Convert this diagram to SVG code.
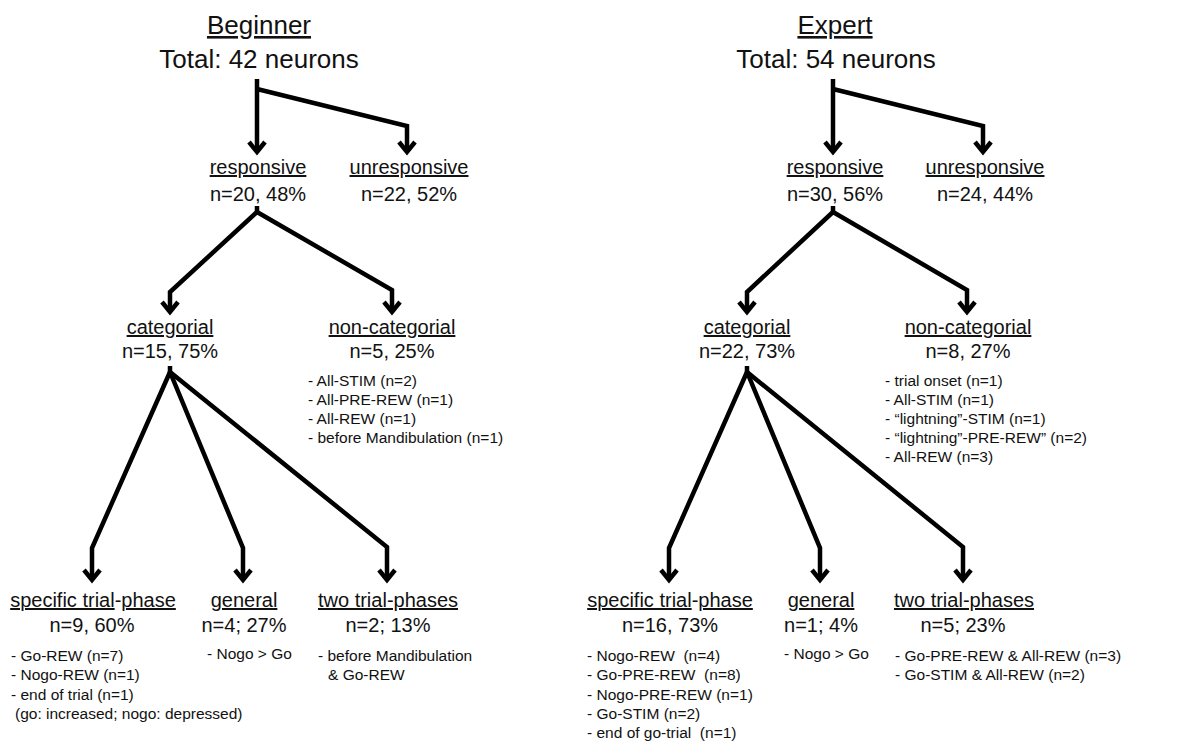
<svg xmlns="http://www.w3.org/2000/svg" width="1204" height="745" viewBox="0 0 1204 745">
<defs>
<style>
text{font-family:"Liberation Sans",Arial,Helvetica,sans-serif;fill:#111}
.t{font-size:26px;text-anchor:middle}
.h{font-size:20px;text-anchor:middle}
.l{font-size:15.5px;white-space:pre}
.u{text-decoration:underline}
.c{fill:none;stroke:#000;stroke-width:4.5;stroke-linejoin:miter;marker-end:url(#chev)}
.k{fill:none;stroke:#000;stroke-width:4.5}
</style>
<marker id="chev" viewBox="-14 -12 18 24" markerUnits="userSpaceOnUse" markerWidth="18" markerHeight="24" refX="0" refY="0" orient="auto" overflow="visible">
<path d="M-10,-8 L0,0 L-10,8" fill="none" stroke="#000" stroke-width="4.5"/>
</marker>
</defs>
<rect width="1204" height="745" fill="#fff"/>

<g id="connectors">
<!-- Beginner -->
<path class="c" d="M257,79 V152"/>
<path class="c" d="M257,89 L407,126 V152"/>
<path class="k" d="M257,206 V213"/>
<path class="c" d="M257,212 L170,292 V312"/>
<path class="c" d="M257,212 L392,290 V312"/>
<path class="k" d="M170,366 V373"/>
<path class="c" d="M170,372 L92,548 V580"/>
<path class="c" d="M170,372 L243,548 V580"/>
<path class="c" d="M170,372 L387,547 V580"/>
<!-- Expert -->
<path class="c" d="M833,79 V152"/>
<path class="c" d="M833,89 L983,126 V152"/>
<path class="k" d="M833,206 V213"/>
<path class="c" d="M833,212 L747,292 V312"/>
<path class="c" d="M833,212 L967,290 V312"/>
<path class="k" d="M747,366 V373"/>
<path class="c" d="M747,372 L669,548 V580"/>
<path class="c" d="M747,372 L820,548 V580"/>
<path class="c" d="M747,372 L963,547 V580"/>
</g>

<!-- Beginner tree -->
<g id="b-root">
<text class="t u" x="259" y="34">Beginner</text>
<text class="t" x="259" y="68">Total: 42 neurons</text>
</g>
<g id="b-responsive">
<text class="h u" x="258" y="174">responsive</text>
<text class="h" x="258" y="201">n=20, 48%</text>
</g>
<g id="b-unresponsive">
<text class="h u" x="409" y="174">unresponsive</text>
<text class="h" x="409" y="201">n=22, 52%</text>
</g>
<g id="b-categorial">
<text class="h u" x="170" y="334">categorial</text>
<text class="h" x="170" y="358">n=15, 75%</text>
</g>
<g id="b-noncategorial">
<text class="h u" x="392" y="334">non-categorial</text>
<text class="h" x="392" y="358">n=5, 25%</text>
<text class="l" x="308" y="386">- All-STIM (n=2)</text>
<text class="l" x="308" y="405">- All-PRE-REW (n=1)</text>
<text class="l" x="308" y="424">- All-REW (n=1)</text>
<text class="l" x="308" y="443">- before Mandibulation (n=1)</text>
</g>
<g id="b-specific">
<text class="h" x="93" y="607"><tspan class="u">specific trial</tspan>-<tspan class="u">phase</tspan></text>
<text class="h" x="92" y="632">n=9, 60%</text>
<text class="l" x="11" y="661">- Go-REW (n=7)</text>
<text class="l" x="11" y="680">- Nogo-REW (n=1)</text>
<text class="l" x="11" y="700">- end of trial (n=1)</text>
<text class="l" x="15" y="719">(go: increased; nogo: depressed)</text>
</g>
<g id="b-general">
<text class="h u" x="244" y="607">general</text>
<text class="h" x="244" y="632">n=4; 27%</text>
<text class="l" x="207" y="659">- Nogo &gt; Go</text>
</g>
<g id="b-two">
<text class="h u" x="388" y="607">two trial-phases</text>
<text class="h" x="388" y="632">n=2; 13%</text>
<text class="l" x="318" y="661">- before Mandibulation</text>
<text class="l" x="328" y="680">&amp; Go-REW</text>
</g>

<!-- Expert tree -->
<g id="e-root">
<text class="t u" x="835" y="34">Expert</text>
<text class="t" x="836" y="68">Total: 54 neurons</text>
</g>
<g id="e-responsive">
<text class="h u" x="835" y="174">responsive</text>
<text class="h" x="835" y="201">n=30, 56%</text>
</g>
<g id="e-unresponsive">
<text class="h u" x="985" y="174">unresponsive</text>
<text class="h" x="985" y="201">n=24, 44%</text>
</g>
<g id="e-categorial">
<text class="h u" x="747" y="334">categorial</text>
<text class="h" x="747" y="358">n=22, 73%</text>
</g>
<g id="e-noncategorial">
<text class="h u" x="968" y="334">non-categorial</text>
<text class="h" x="968" y="358">n=8, 27%</text>
<text class="l" x="885" y="386">- trial onset (n=1)</text>
<text class="l" x="885" y="405">- All-STIM (n=1)</text>
<text class="l" x="885" y="424">- “lightning”-STIM (n=1)</text>
<text class="l" x="885" y="443">- “lightning”-PRE-REW” (n=2)</text>
<text class="l" x="885" y="462">- All-REW (n=3)</text>
</g>
<g id="e-specific">
<text class="h" x="670" y="607"><tspan class="u">specific trial</tspan>-<tspan class="u">phase</tspan></text>
<text class="h" x="670" y="632">n=16, 73%</text>
<text class="l" x="587" y="661">- Nogo-REW  (n=4)</text>
<text class="l" x="587" y="680">- Go-PRE-REW  (n=8)</text>
<text class="l" x="587" y="700">- Nogo-PRE-REW (n=1)</text>
<text class="l" x="587" y="719">- Go-STIM (n=2)</text>
<text class="l" x="587" y="738">- end of go-trial  (n=1)</text>
</g>
<g id="e-general">
<text class="h u" x="821" y="607">general</text>
<text class="h" x="821" y="632">n=1; 4%</text>
<text class="l" x="784" y="659">- Nogo &gt; Go</text>
</g>
<g id="e-two">
<text class="h u" x="964" y="607">two trial-phases</text>
<text class="h" x="963" y="632">n=5; 23%</text>
<text class="l" x="895" y="661">- Go-PRE-REW &amp; All-REW (n=3)</text>
<text class="l" x="895" y="680">- Go-STIM &amp; All-REW (n=2)</text>
</g>
</svg>
